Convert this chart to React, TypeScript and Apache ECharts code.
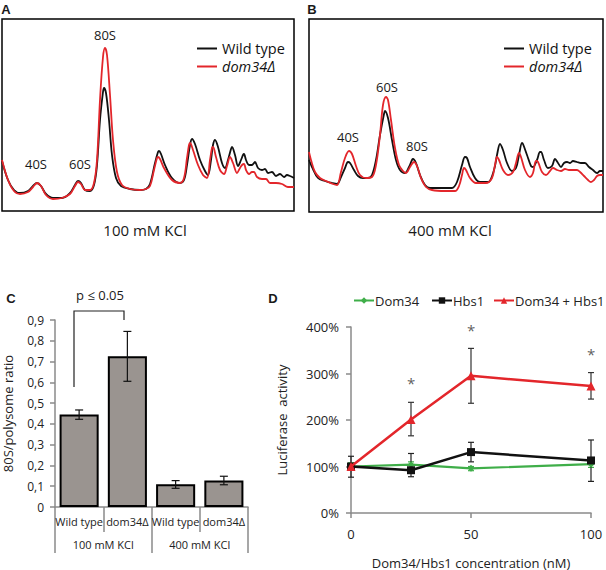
import React, { useEffect, useRef } from "react";
import * as echarts from "echarts";

const FONT = "'Open Sans', 'DejaVu Sans', sans-serif";
const RED = "#e3262b";
const BLACK = "#111111";
const GREEN = "#3fae49";
const AXIS_GRAY = "#8a8a8a";

// Panel A (100 mM KCl): [gradient position, A254 (a.u.)]
const profileA_wildType: number[][] = [
  [0, 50], [6, 31], [12, 21], [18, 18], [26, 20], [31, 25], [35, 28], [39, 25], [44, 17], [51, 13],
  [60, 13], [68, 18], [73, 26], [76, 30], [79, 28], [83, 21], [88, 20], [92, 26], [95, 46], [98, 91],
  [101, 119], [102, 123], [104, 118], [107, 91], [110, 56], [114, 33], [119, 25], [128, 22], [138, 21],
  [144, 22], [148, 27], [153, 48], [156, 59], [157, 60], [159, 57], [163, 46], [170, 33], [178, 28],
  [182, 31], [185, 46], [188, 66], [190, 72], [193, 67], [198, 51], [203, 40], [206, 36], [209, 51],
  [211, 66], [213, 71], [216, 64], [220, 48], [223, 43], [226, 51], [229, 62], [230, 64], [233, 56],
  [236, 45], [239, 51], [241, 56], [242, 57], [244, 51], [247, 46], [250, 46], [252, 48], [253, 49],
  [256, 43], [260, 41], [263, 42], [266, 38], [270, 39], [274, 35], [278, 37], [282, 34], [285, 36],
  [288, 35], [292, 33],
];
const profileA_dom34: number[][] = [
  [0, 51], [6, 31], [12, 20], [18, 17], [26, 19], [31, 24], [35, 28], [39, 25], [44, 16], [51, 12],
  [60, 13], [68, 17], [73, 25], [76, 29], [79, 27], [83, 21], [88, 21], [92, 28], [95, 51], [98, 111],
  [101, 154], [103, 163], [105, 156], [108, 116], [111, 71], [115, 39], [120, 26], [128, 22], [138, 21],
  [144, 22], [148, 25], [152, 41], [155, 53], [156, 54], [158, 52], [162, 43], [170, 31], [178, 28],
  [182, 33], [185, 53], [187, 66], [188, 68], [191, 61], [196, 46], [201, 36], [205, 33], [208, 51],
  [210, 63], [211, 64], [214, 54], [218, 41], [222, 37], [225, 45], [228, 54], [231, 48], [235, 38],
  [238, 43], [240, 46], [242, 47], [244, 41], [247, 37], [250, 39], [252, 39], [255, 34], [260, 32],
  [264, 32], [268, 28], [274, 28], [280, 27], [286, 24], [292, 24],
];

// Panel B (400 mM KCl)
const profileB_wildType: number[][] = [
  [0, 52], [3, 45], [9, 34], [16, 31], [23, 29], [28, 28], [32, 35], [36, 44], [39, 50], [41, 49],
  [45, 42], [49, 36], [54, 34], [59, 34], [63, 37], [67, 52], [71, 77], [75, 98], [76, 101], [79, 94],
  [83, 72], [87, 52], [91, 42], [96, 39], [100, 45], [103, 52], [104, 53], [107, 49], [111, 37],
  [116, 27], [121, 24], [131, 24], [143, 24], [148, 30], [153, 47], [156, 55], [158, 54], [161, 45],
  [166, 34], [171, 30], [179, 30], [185, 42], [188, 57], [191, 68], [194, 62], [198, 49], [203, 41],
  [207, 44], [210, 57], [213, 69], [214, 68], [218, 57], [222, 46], [224, 45], [228, 52], [231, 60],
  [232, 60], [235, 52], [239, 44], [243, 46], [246, 53], [249, 49], [252, 45], [255, 49], [258, 50],
  [261, 49], [264, 51], [268, 50], [272, 49], [276, 49], [280, 45], [284, 42], [288, 39], [291, 41],
  [294, 41],
];
const profileB_dom34: number[][] = [
  [0, 60], [2, 52], [6, 40], [11, 34], [17, 31], [24, 28], [28, 27], [32, 40], [36, 54], [40, 61],
  [43, 58], [47, 46], [51, 37], [57, 34], [63, 35], [67, 47], [71, 77], [74, 107], [77, 115], [79, 112],
  [82, 92], [86, 64], [90, 47], [94, 41], [97, 39], [101, 45], [105, 50], [108, 46], [112, 34],
  [117, 25], [123, 22], [136, 21], [146, 21], [150, 26], [153, 37], [155, 44], [157, 42], [161, 34],
  [167, 29], [177, 29], [183, 34], [186, 47], [188, 55], [190, 52], [194, 42], [199, 37], [204, 40],
  [207, 49], [210, 59], [212, 55], [216, 42], [221, 35], [224, 39], [227, 51], [229, 50], [233, 40],
  [237, 37], [241, 41], [244, 44], [248, 42], [252, 41], [256, 43], [260, 42], [264, 42], [268, 42],
  [271, 40], [275, 36], [279, 32], [282, 30], [285, 32], [288, 36], [291, 37], [294, 37],
];

// Panel C
const cStrains = ["Wild type", "dom34Δ", "Wild type", "dom34Δ"];
const cConditions = ["100 mM KCl", "400 mM KCl"];
const cRatio = [0.445, 0.725, 0.11, 0.127];
const cErrLow = [0.422, 0.605, 0.09, 0.107];
const cErrHigh = [0.467, 0.845, 0.127, 0.148];
const cTicks = [0, 0.9, 0.1];

// Panel D
const dConc = [0, 25, 50, 100];
const dDom34 = [100, 104, 96, 105];
const dDom34Low = [92, 96, 91, 98];
const dDom34High = [108, 110, 100, 112];
const dHbs1 = [100, 92, 131, 113];
const dHbs1Low = [77, 78, 110, 68];
const dHbs1High = [122, 128, 152, 157];
const dBoth = [100, 201, 295, 273];
const dBothLow = [100, 166, 236, 245];
const dBothHigh = [100, 238, 354, 302];
const dStarAt = [[25, 280], [50, 394], [100, 341]];

const errRender = (capHalf: number, color: string) => (_p: any, api: any) => {
  const x = api.value(0);
  const lo = api.coord([x, api.value(1)]);
  const hi = api.coord([x, api.value(2)]);
  const style = { stroke: color, lineWidth: 1.2 };
  return {
    type: "group",
    children: [
      { type: "line", shape: { x1: lo[0], y1: lo[1], x2: hi[0], y2: hi[1] }, style },
      { type: "line", shape: { x1: lo[0] - capHalf, y1: lo[1], x2: lo[0] + capHalf, y2: lo[1] }, style },
      { type: "line", shape: { x1: hi[0] - capHalf, y1: hi[1], x2: hi[0] + capHalf, y2: hi[1] }, style },
    ],
  };
};

const zip3 = (x: number[], a: number[], b: number[]) => x.map((v, i) => [v, a[i], b[i]]);
const zip2 = (x: number[], a: number[]) => x.map((v, i) => [v, a[i]]);

const txt = (x: number, y: number, text: string, size: number, extra: any = {}) => ({
  type: "text",
  x,
  y,
  style: {
    text,
    fontSize: size,
    fontFamily: FONT,
    fill: "#1a1a1a",
    align: "center",
    verticalAlign: "middle",
    ...extra,
  },
});

const traceLine = (name: string, data: number[][], idx: number, color: string) => ({
  type: "line",
  name,
  data,
  xAxisIndex: idx,
  yAxisIndex: idx,
  smooth: 0.35,
  symbol: "none",
  lineStyle: { color, width: 1.8 },
  itemStyle: { color },
  z: color === RED ? 3 : 2,
});

const profileLegend = (left: number) => ({
  left,
  top: 41,
  padding: 0,
  orient: "vertical",
  icon: "rect",
  itemWidth: 20,
  itemHeight: 2,
  itemGap: 3,
  selectedMode: false,
  textStyle: { fontSize: 14.5, color: "#111", fontFamily: FONT, lineHeight: 14 },
  data: [{ name: "Wild type" }, { name: "dom34Δ", textStyle: { fontStyle: "italic" } }],
});

const lucLegend = (left: number, name: string) => ({
  left,
  top: 294,
  padding: 0,
  itemWidth: 20,
  itemHeight: 8,
  selectedMode: false,
  textStyle: { fontSize: 13, color: "#222", fontFamily: FONT, padding: [0, 0, 0, -4] },
  data: [name],
});

export default function App() {
  const ref = useRef<HTMLDivElement>(null);
  useEffect(() => {
    const chart = echarts.init(ref.current!, null, { renderer: "svg" });
    const hiddenAxis = { show: false };
    const option: any = {
      animation: false,
      backgroundColor: "#fff",
      textStyle: { fontFamily: FONT },
      grid: [
        { left: 2, top: 19, width: 292, height: 192, show: true, borderColor: "#000", borderWidth: 1.5, backgroundColor: "transparent" },
        { left: 309, top: 19, width: 294, height: 193, show: true, borderColor: "#000", borderWidth: 1.5, backgroundColor: "transparent" },
        { left: 51, top: 320, width: 197, height: 187 },
        { left: 351, top: 327, width: 240, height: 190 },
      ],
      xAxis: [
        { gridIndex: 0, type: "value", min: 0, max: 292, ...hiddenAxis },
        { gridIndex: 1, type: "value", min: 0, max: 294, ...hiddenAxis },
        {
          gridIndex: 2,
          type: "category",
          data: cStrains,
          axisLine: { lineStyle: { color: AXIS_GRAY, width: 1.5 } },
          axisTick: { show: true, interval: 0, length: 25, lineStyle: { color: AXIS_GRAY, width: 1.5 } },
          axisLabel: { interval: 0, margin: 9, fontSize: 11, color: "#222", fontFamily: FONT },
        },
        {
          gridIndex: 2,
          type: "category",
          position: "bottom",
          offset: 25,
          data: cConditions,
          axisLine: { show: false },
          axisTick: { show: true, interval: 0, length: 21, lineStyle: { color: AXIS_GRAY, width: 1.5 } },
          axisLabel: { interval: 0, margin: 7, fontSize: 11, color: "#222", fontFamily: FONT },
        },
        {
          gridIndex: 3,
          type: "value",
          min: 0,
          max: 100,
          interval: 50,
          name: "Dom34/Hbs1 concentration (nM)",
          nameLocation: "middle",
          nameGap: 43,
          nameTextStyle: { fontSize: 13, color: "#222", fontFamily: FONT },
          axisLine: { lineStyle: { color: AXIS_GRAY, width: 1.5 } },
          axisTick: { show: true, length: 5, lineStyle: { color: AXIS_GRAY, width: 1.5 } },
          axisLabel: { margin: 14, fontSize: 13, color: "#222", fontFamily: FONT },
          splitLine: { show: false },
        },
      ],
      yAxis: [
        { gridIndex: 0, type: "value", min: 0, max: 192, ...hiddenAxis },
        { gridIndex: 1, type: "value", min: 0, max: 193, ...hiddenAxis },
        {
          gridIndex: 2,
          type: "value",
          min: cTicks[0],
          max: cTicks[1],
          interval: cTicks[2],
          name: "80S/polysome ratio",
          nameLocation: "middle",
          nameGap: 41,
          nameTextStyle: { fontSize: 13, color: "#222", fontFamily: FONT },
          axisLine: { show: true, lineStyle: { color: AXIS_GRAY, width: 1.5 } },
          axisTick: { show: true, length: 5, lineStyle: { color: AXIS_GRAY, width: 1.5 } },
          axisLabel: {
            margin: 11,
            fontSize: 12,
            color: "#222",
            fontFamily: FONT,
            formatter: (v: number) => (v === 0 ? "0" : v.toFixed(1).replace(".", ",")),
          },
          splitLine: { show: false },
        },
        {
          gridIndex: 3,
          type: "value",
          min: 0,
          max: 400,
          interval: 100,
          name: "Luciferase  activity",
          nameLocation: "middle",
          nameGap: 63,
          nameTextStyle: { fontSize: 13, color: "#222", fontFamily: FONT },
          axisLine: { show: true, lineStyle: { color: AXIS_GRAY, width: 1.5 } },
          axisTick: { show: true, length: 5, lineStyle: { color: AXIS_GRAY, width: 1.5 } },
          axisLabel: { margin: 12, fontSize: 13, color: "#222", fontFamily: FONT, formatter: "{value}%" },
          splitLine: { show: false },
        },
      ],
      legend: [
        profileLegend(197),
        profileLegend(504),
        lucLegend(353, "Dom34"),
        lucLegend(431, "Hbs1"),
        lucLegend(493, "Dom34 + Hbs1"),
      ],
      series: [
        traceLine("Wild type", profileA_wildType, 0, BLACK),
        traceLine("dom34Δ", profileA_dom34, 0, RED),
        traceLine("Wild type", profileB_wildType, 1, BLACK),
        traceLine("dom34Δ", profileB_dom34, 1, RED),
        {
          type: "bar",
          name: "ratio",
          xAxisIndex: 2,
          yAxisIndex: 2,
          data: cRatio,
          barWidth: "81%",
          itemStyle: { color: "#9a9490", borderColor: "#000", borderWidth: 2 },
        },
        {
          type: "custom",
          name: "ratioErr",
          xAxisIndex: 2,
          yAxisIndex: 2,
          renderItem: errRender(4, "#111"),
          encode: { x: 0, y: [1, 2] },
          data: cStrains.map((_, i) => [i, cErrLow[i], cErrHigh[i]]),
          z: 5,
        },
        {
          type: "custom",
          name: "dom34Err",
          xAxisIndex: 4,
          yAxisIndex: 3,
          renderItem: errRender(3, GREEN),
          encode: { x: 0, y: [1, 2] },
          data: zip3(dConc, dDom34Low, dDom34High),
          z: 1,
        },
        {
          type: "custom",
          name: "hbs1Err",
          xAxisIndex: 4,
          yAxisIndex: 3,
          renderItem: errRender(3, "#222"),
          encode: { x: 0, y: [1, 2] },
          data: zip3(dConc, dHbs1Low, dHbs1High),
          z: 1,
        },
        {
          type: "custom",
          name: "bothErr",
          xAxisIndex: 4,
          yAxisIndex: 3,
          renderItem: errRender(3, "#333"),
          encode: { x: 0, y: [1, 2] },
          data: zip3(dConc, dBothLow, dBothHigh),
          z: 1,
        },
        {
          type: "line",
          name: "Dom34",
          xAxisIndex: 4,
          yAxisIndex: 3,
          data: zip2(dConc, dDom34),
          symbol: "diamond",
          symbolSize: 7,
          lineStyle: { color: GREEN, width: 2.2 },
          itemStyle: { color: GREEN },
          z: 2,
        },
        {
          type: "line",
          name: "Hbs1",
          xAxisIndex: 4,
          yAxisIndex: 3,
          data: zip2(dConc, dHbs1),
          symbol: "rect",
          symbolSize: 8,
          lineStyle: { color: BLACK, width: 2.5 },
          itemStyle: { color: BLACK },
          z: 3,
        },
        {
          type: "line",
          name: "Dom34 + Hbs1",
          xAxisIndex: 4,
          yAxisIndex: 3,
          data: zip2(dConc, dBoth),
          symbol: "triangle",
          symbolSize: 9,
          lineStyle: { color: RED, width: 2.5 },
          itemStyle: { color: RED },
          z: 4,
        },
        {
          type: "scatter",
          name: "significance",
          xAxisIndex: 4,
          yAxisIndex: 3,
          data: dStarAt,
          symbolSize: 0,
          label: { show: true, position: "inside", formatter: "*", fontSize: 15, color: "#333", fontFamily: FONT },
          z: 5,
        },
      ],
      graphic: [
        txt(6, 9, "A", 13, { fontWeight: "bold", fontFamily: "'Liberation Sans', Arial, sans-serif" }),
        txt(312, 9, "B", 13, { fontWeight: "bold", fontFamily: "'Liberation Sans', Arial, sans-serif" }),
        txt(11, 298, "C", 13, { fontWeight: "bold", fontFamily: "'Liberation Sans', Arial, sans-serif" }),
        txt(273, 298, "D", 13, { fontWeight: "bold", fontFamily: "'Liberation Sans', Arial, sans-serif" }),
        txt(105, 35, "80S", 13),
        txt(36, 164, "40S", 13),
        txt(80, 164, "60S", 13),
        txt(387, 87, "60S", 13),
        txt(348, 137, "40S", 13),
        txt(417, 146, "80S", 13),
        txt(145, 230, "100 mM KCl", 15),
        txt(450, 230, "400 mM KCl", 15),
        txt(100, 295, "p ≤ 0.05", 13),
        {
          type: "polyline",
          shape: { points: [[74, 387], [74, 311], [124, 311], [124, 320]] },
          style: { stroke: "#222", lineWidth: 1.2, fill: "none" },
        },
      ],
    };
    chart.setOption(option);
    return () => chart.dispose();
  }, []);
  return (
    <div
      ref={ref}
      style={{ position: "absolute", left: 0, top: 0, width: 606, height: 570, background: "#fff" }}
    />
  );
}
